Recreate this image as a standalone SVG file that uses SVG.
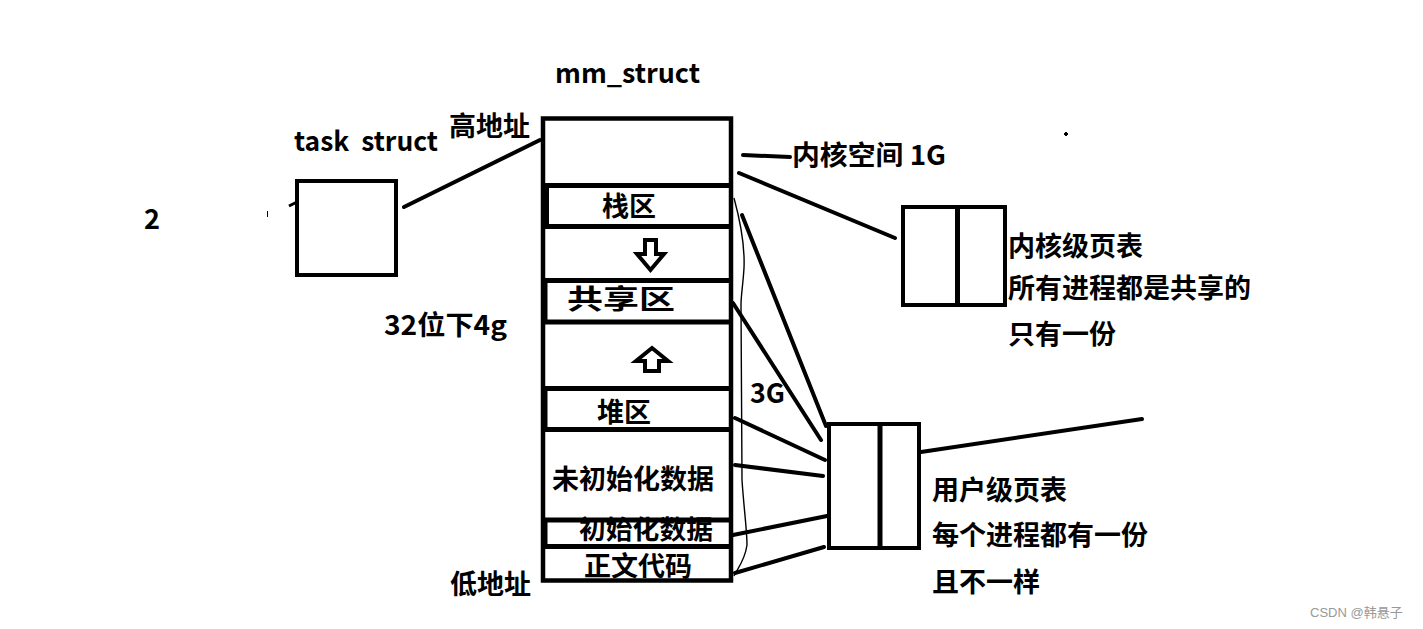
<svg xmlns="http://www.w3.org/2000/svg" width="1423" height="629" viewBox="0 0 1423 629">
<style>
.t{font-family:"Noto Sans CJK SC","Open Sans",sans-serif;font-weight:bold;font-size:27px;fill:#000}
.s{fill:none;stroke:#000;stroke-width:4}
.c{stroke:#000;stroke-width:4;stroke-linecap:round;fill:none}
.thin{stroke:#000;stroke-width:1.4;fill:none}
</style>
<rect width="1423" height="629" fill="#fff"/>
<g id="labels">
<text class="t" x="555" y="83" textLength="145" lengthAdjust="spacingAndGlyphs">mm_struct</text>
<text class="t" x="294" y="151" textLength="144" lengthAdjust="spacingAndGlyphs">task&#160;&#160;struct</text>
<text class="t" x="449" y="136">高地址</text>
<text class="t" x="450" y="594">低地址</text>
<text class="t" x="144" y="229" textLength="16" lengthAdjust="spacingAndGlyphs">2</text>
<text class="t" x="384" y="335" textLength="123" lengthAdjust="spacingAndGlyphs">32位下4g</text>
<text class="t" x="750" y="403" textLength="35" lengthAdjust="spacingAndGlyphs">3G</text>
<text class="t" x="792" y="165" textLength="154" lengthAdjust="spacingAndGlyphs">内核空间&#160;1G</text>
<text class="t" x="1008" y="256">内核级页表</text>
<text class="t" x="1008" y="298">所有进程都是共享的</text>
<text class="t" x="1008" y="344">只有一份</text>
<text class="t" x="932" y="500">用户级页表</text>
<text class="t" x="932" y="545">每个进程都有一份</text>
<text class="t" x="932" y="592">且不一样</text>
<text x="1310" y="617" style="font-family:'Liberation Sans','Noto Sans CJK SC',sans-serif;font-size:13px;fill:#999">CSDN @韩悬子</text>
</g>
<g id="task_struct">
<rect class="s" x="297" y="181" width="99" height="94"/>
<line x1="289" y1="206" x2="297" y2="202" stroke="#000" stroke-width="3"/>
<line x1="267.5" y1="211" x2="267.5" y2="217" stroke="#000" stroke-width="1"/>
</g>
<g id="mm_struct">
<text class="t" x="602" y="216">栈区</text>
<text class="t" x="567" y="309" textLength="108" lengthAdjust="spacingAndGlyphs">共享区</text>
<text class="t" x="597" y="422">堆区</text>
<text class="t" x="552" y="489">未初始化数据</text>
<text class="t" x="579" y="539" style="font-size:26px" textLength="134" lengthAdjust="spacingAndGlyphs">初始化数据</text>
<text class="t" x="584" y="576">正文代码</text>
<rect x="543" y="118.5" width="188" height="462" fill="none" stroke="#000" stroke-width="4.5"/>
<line x1="543" y1="185.5" x2="731" y2="185.5" stroke="#000" stroke-width="5"/>
<line x1="543" y1="226.5" x2="731" y2="226.5" stroke="#000" stroke-width="5"/>
<line x1="543" y1="280.5" x2="731" y2="280.5" stroke="#000" stroke-width="5"/>
<line x1="543" y1="322" x2="731" y2="322" stroke="#000" stroke-width="5"/>
<line x1="543" y1="388.5" x2="731" y2="388.5" stroke="#000" stroke-width="5"/>
<line x1="543" y1="429.5" x2="731" y2="429.5" stroke="#000" stroke-width="5"/>
<line x1="543" y1="520" x2="731" y2="520" stroke="#000" stroke-width="5"/>
<line x1="543" y1="546.5" x2="731" y2="546.5" stroke="#000" stroke-width="5"/>
<line x1="547" y1="185" x2="547" y2="227" stroke="#000" stroke-width="4"/>
<line x1="546" y1="280" x2="546" y2="322" stroke="#000" stroke-width="3"/>
<line x1="546" y1="388" x2="546" y2="430" stroke="#000" stroke-width="3"/>
<line x1="546" y1="520" x2="546" y2="547" stroke="#000" stroke-width="3"/>
<path class="s" d="M645,240 H656 V254 H664 L650.5,270 L637,254 H645 Z"/>
<path class="s" d="M652,348 L668,361 H659 V371 H645 V361 H636 Z"/>
</g>
<g id="kernel_page_table">
<rect class="s" x="903" y="207" width="102" height="98"/>
<line x1="957.5" y1="207" x2="957.5" y2="305" stroke="#000" stroke-width="5"/>
</g>
<g id="user_page_table">
<rect class="s" x="829" y="424" width="90" height="124"/>
<line x1="880" y1="424" x2="880" y2="548" stroke="#000" stroke-width="5"/>
</g>
<g id="connectors">
<line class="c" x1="404" y1="207" x2="540" y2="140"/>
<line class="c" x1="743" y1="155" x2="790" y2="157"/>
<line class="c" x1="739" y1="173" x2="895" y2="238"/>
<line class="c" x1="742" y1="215" x2="826" y2="426"/>
<line class="c" x1="733" y1="303" x2="821" y2="440"/>
<line class="c" x1="735" y1="418" x2="825" y2="460"/>
<line class="c" x1="735" y1="465" x2="823" y2="476"/>
<line class="c" x1="733" y1="535" x2="827" y2="516"/>
<line class="c" x1="735" y1="573" x2="824" y2="547"/>
<line class="c" x1="921" y1="452" x2="1142" y2="419"/>
<path class="thin" d="M734,198 C740,220 745,245 744,268 C743,285 741,295 741,305 L742,480 C744,510 747,530 747,545 C745,560 738,568 734,576"/>
<rect x="1064" y="133" width="4" height="2" fill="#000"/>
<rect x="1065" y="132" width="2" height="4" fill="#000"/>
</g>
</svg>
